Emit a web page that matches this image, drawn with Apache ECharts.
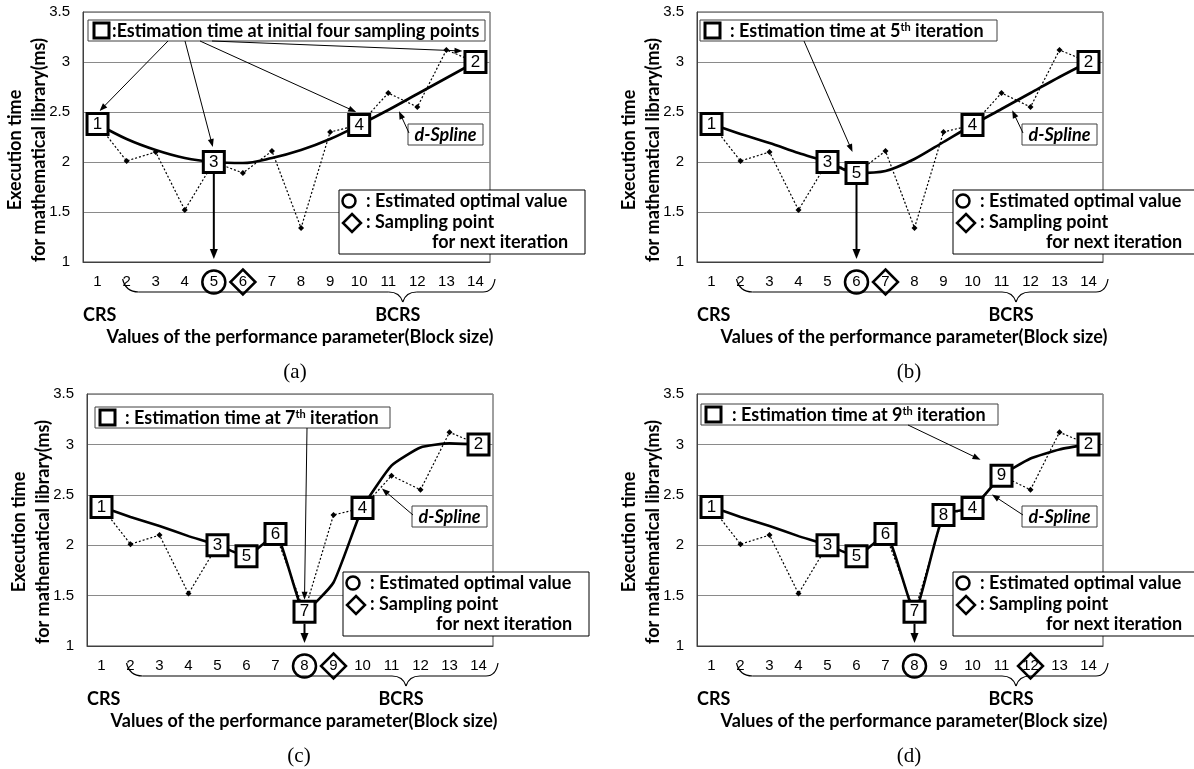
<!DOCTYPE html>
<html><head><meta charset="utf-8">
<script src="https://cdn.jsdelivr.net/npm/echarts@6/dist/echarts.min.js"></script>
<style>html,body{margin:0;padding:0;background:#fff}#c{width:1194px;height:769px}</style>
</head><body><div id="c"></div><script>
// ---------- data ----------
const categories = ['1','2','3','4','5','6','7','8','9','10','11','12','13','14'];
const measured = [2.38, 2.01, 2.10, 1.52, 2.00, 1.89, 2.11, 1.34, 2.30, 2.37, 2.69, 2.55, 3.12, 3.00];
const splineA = [2.38, 2.23, 2.12, 2.04, 2.00, 1.99, 2.04, 2.12, 2.23, 2.37, 2.52, 2.68, 2.84, 3.00];
const splineB = [2.38, 2.28, 2.19, 2.09, 2.00, 1.89, 1.91, 2.03, 2.20, 2.37, 2.53, 2.69, 2.85, 3.00];
const splineC = [2.38, 2.28, 2.19, 2.09, 2.00, 1.89, 2.11, 1.34, 1.63, 2.37, 2.79, 2.97, 3.01, 3.00];
const splineD = [2.38, 2.28, 2.19, 2.09, 2.00, 1.89, 2.11, 1.34, 2.30, 2.37, 2.69, 2.86, 2.95, 3.00];
const sampleCats = [1, 14, 5, 10, 6, 7, 8, 9, 11];   // category of k-th sampled point (box label k)
const samplesShown = [4, 5, 7, 9];
const optimalCats = [5, 6, 8, 8];
const nextCats = [6, 7, 9, 12];
const iterNames = ['', '5', '7', '9'];
const panelNames = ['(a)', '(b)', '(c)', '(d)'];
const yMin = 1, yMax = 3.5, yStep = 0.5;

// ---------- layout ----------
const L = [
  {left:83, top:12, width:407, height:250, smooth:0.35},
  {left:697, top:12, width:406, height:250, smooth:0.3},
  {left:87, top:394, width:406, height:252, smooth:0.15},
  {left:697, top:394, width:406, height:252, smooth:0.15}
];
const splines = [splineA, splineB, splineC, splineD];
const BOLD = 'bold 18px Lato';

const chart = echarts.init(document.getElementById('c'));
const grids = [], xAxes = [], yAxes = [], series = [];
L.forEach((p, i) => {
  grids.push({left:p.left, top:p.top, width:p.width, height:p.height, show:true, borderColor:'#404040', borderWidth:1});
  xAxes.push({gridIndex:i, type:'category', data:categories, boundaryGap:true,
    axisLine:{lineStyle:{color:'#404040', width:1}},
    axisTick:{inside:true, length:4, lineStyle:{color:'#404040'}},
    axisLabel:{fontFamily:'Liberation Sans', fontSize:15, color:'#000', margin:12},
    splitLine:{show:false}});
  yAxes.push({gridIndex:i, type:'value', min:yMin, max:yMax, interval:yStep,
    axisLine:{show:true, lineStyle:{color:'#404040'}}, axisTick:{show:false},
    axisLabel:{fontFamily:'Liberation Sans', fontSize:15, color:'#000', margin:13},
    splitLine:{lineStyle:{color:'#8a8a8a', width:1}}});
  series.push({type:'line', xAxisIndex:i, yAxisIndex:i, data:measured, symbol:'diamond', symbolSize:6,
    itemStyle:{color:'#000'}, lineStyle:{color:'#000', width:1.2, type:[2,2]}, z:2, silent:true});
  series.push({type:'line', xAxisIndex:i, yAxisIndex:i, data:splines[i], showSymbol:false, smooth:p.smooth,
    lineStyle:{color:'#000', width:2.6}, z:3, silent:true});
  const boxes = [];
  for (let k = 0; k < samplesShown[i]; k++) {
    const c = sampleCats[k] - 1;
    boxes.push({name:String(k+1), value:[c, measured[c]]});
  }
  series.push({type:'scatter', xAxisIndex:i, yAxisIndex:i, data:boxes, symbol:'rect', symbolSize:21,
    itemStyle:{color:'#fff', borderColor:'#000', borderWidth:3, opacity:1},
    label:{show:true, position:'inside', formatter:'{b}', fontFamily:'Liberation Sans', fontSize:17, color:'#000'},
    z:5, silent:true});
});

chart.setOption({animation:false, backgroundColor:'#fff', grid:grids, xAxis:xAxes, yAxis:yAxes, series:series});

// ---------- annotations ----------
function arrow(x1, y1, x2, y2, w, hl, hw) {
  const dx = x2-x1, dy = y2-y1, len = Math.hypot(dx, dy), ux = dx/len, uy = dy/len;
  const bx = x2-ux*hl, by = y2-uy*hl, px = -uy, py = ux;
  return [
    {type:'line', z:100, shape:{x1:x1, y1:y1, x2:bx+ux*1, y2:by+uy*1}, style:{stroke:'#000', lineWidth:w}},
    {type:'polygon', z:100, shape:{points:[[x2,y2],[bx+px*hw/2,by+py*hw/2],[bx-px*hw/2,by-py*hw/2]]}, style:{fill:'#000'}}
  ];
}
function qcurve(x1, y1, cx, cy, x2, y2) {
  return {type:'bezierCurve', z:50, shape:{x1:x1, y1:y1, cpx1:cx, cpy1:cy, x2:x2, y2:y2}, style:{stroke:'#000', lineWidth:1.2, fill:null}};
}
function seg(x1, y1, x2, y2) {
  return {type:'line', z:50, shape:{x1:x1, y1:y1, x2:x2, y2:y2}, style:{stroke:'#000', lineWidth:1.2}};
}
function px(i, c, v) { return chart.convertToPixel({xAxisIndex:i, yAxisIndex:i}, [c, v]); }
function boxPx(i, k) { const c = sampleCats[k-1]-1; return px(i, c, measured[c]); }

const legendTop = [
  {dx:5, dy:8, w:397, sq:6, tx:24},
  {dx:3, dy:8, w:297, sq:5, tx:30},
  {dx:8, dy:13, w:295, sq:5, tx:30},
  {dx:4, dy:10, w:297, sq:5, tx:31}
];
const legendArrows = [
  [[80, 1, 2, -13], [97, 3, -1, -15], [112, 4, -3, -13], [124, 2, -13, -11]],
  [[104, 5, -4, -21]],
  [[212, 7, 0, -12]],
  [[207, 9, -21, -16]]
];
const downArrowBox = [3, 5, 7, 7];
const splineTip = [[10, 0.3], [10, 0.3], [9, 0.6], [9, 0.6]];

const g = [];
const richT = {
  t:{fontFamily:'Lato', fontWeight:'bold', fontSize:18, fill:'#000'},
  s:{fontFamily:'Lato', fontWeight:'bold', fontSize:11, fill:'#000', verticalAlign:'top'}
};
L.forEach((p, i) => {
  const gl = p.left, gt = p.top, gr = p.left + p.width, gb = p.top + p.height;
  const cw = p.width / categories.length;
  const cx = c => px(i, c, 2)[0];

  // y-axis title
  g.push({type:'text', x:gl-68, y:gt+138, rotation:Math.PI/2, style:{text:'Execution time', font:BOLD, fill:'#000', align:'center', verticalAlign:'middle'}});
  g.push({type:'text', x:gl-44, y:gt+138, rotation:Math.PI/2, style:{text:'for mathematical library(ms)', font:BOLD, fill:'#000', align:'center', verticalAlign:'middle'}});

  // brace
  const xl = cx(1) - 4, xm = gl + 11*cw, xr = gr + 5;
  const yT = gb + 17, yB = gb + 30, yTip = gb + 40;
  g.push(qcurve(xl, yT, xl+3, yB, xl+16, yB));
  g.push(seg(xl+16, yB, xm-14, yB));
  g.push(qcurve(xm-14, yB, xm-3, yB, xm, yTip));
  g.push(qcurve(xm, yTip, xm+3, yB, xm+14, yB));
  g.push(seg(xm+14, yB, xr-12, yB));
  g.push(qcurve(xr-12, yB, xr-2, yB, xr, yT));
  g.push({type:'text', x:gl, y:gb+53, style:{text:'CRS', font:BOLD, fill:'#000', align:'left', verticalAlign:'middle'}});
  g.push({type:'text', x:xm-5, y:gb+53, style:{text:'BCRS', font:BOLD, fill:'#000', align:'center', verticalAlign:'middle'}});
  g.push({type:'text', x:gl+217, y:gb+75, style:{text:'Values of the performance parameter(Block size)', font:BOLD, fill:'#000', align:'center', verticalAlign:'middle'}});
  g.push({type:'text', x:gl+212, y:gb+110, style:{text:panelNames[i], font:'21px "Liberation Serif"', fill:'#000', align:'center', verticalAlign:'middle'}});

  // circle / diamond around x labels
  const oc = cx(optimalCats[i]-1), ly = gb + 20;
  g.push({type:'circle', z:60, shape:{cx:oc, cy:ly, r:11.5}, style:{stroke:'#000', lineWidth:2.5, fill:null}});
  const nc = cx(nextCats[i]-1), h = 12.5;
  g.push({type:'polygon', z:60, shape:{points:[[nc,ly-h],[nc+h,ly],[nc,ly+h],[nc-h,ly]]}, style:{stroke:'#000', lineWidth:2.5, fill:null}});

  // top legend
  const lt = legendTop[i], rx = gl + lt.dx, ry = gt + lt.dy;
  g.push({type:'rect', z:90, shape:{x:rx, y:ry, width:lt.w, height:21}, style:{fill:'#fff', stroke:'#404040', lineWidth:1}});
  g.push({type:'rect', z:91, shape:{x:rx+lt.sq, y:ry+3, width:15, height:15}, style:{fill:'#fff', stroke:'#000', lineWidth:3}});
  const ltxt = i === 0 ? '{t|:Estimation time at initial four sampling points}'
                       : '{t|: Estimation time at ' + iterNames[i] + '}{s|th}{t| iteration}';
  g.push({type:'text', z:91, x:rx+lt.tx, y:ry+11, style:{text:ltxt, rich:richT, align:'left', verticalAlign:'middle'}});
  legendArrows[i].forEach(a => {
    const b = boxPx(i, a[1]);
    g.push(...arrow(rx + a[0], ry + 21, b[0] + a[2], b[1] + a[3], 1, 8, 6));
  });

  // down arrow from box to axis
  const db = boxPx(i, downArrowBox[i]);
  g.push(...arrow(db[0], db[1] + 12, db[0], gb - 3, 2, 10, 8));

  // d-Spline label
  const sx = gl + 325, sy = gt + 112;
  g.push({type:'rect', z:90, shape:{x:sx, y:sy, width:75, height:21}, style:{fill:'#fff', stroke:'#404040', lineWidth:1}});
  g.push({type:'text', z:91, x:sx+37.5, y:sy+11, style:{text:'d-Spline', font:'italic bold 18px Lato', fill:'#000', align:'center', verticalAlign:'middle'}});
  const st = splineTip[i], sp = splines[i];
  const p0 = px(i, st[0], sp[st[0]]), p1 = px(i, st[0]+1, sp[st[0]+1]);
  const tx = p0[0] + (p1[0]-p0[0])*st[1] + 2, ty = p0[1] + (p1[1]-p0[1])*st[1] + 6;
  g.push(...arrow(sx + 1, sy + 9, tx, ty, 1, 8, 6));

  // bottom legend
  const bx = gl + 256, by = gt + 178;
  g.push({type:'rect', z:90, shape:{x:bx, y:by, width:246, height:64}, style:{fill:'#fff', stroke:'#000', lineWidth:1}});
  g.push({type:'circle', z:91, shape:{cx:bx+10, cy:by+11, r:6.5}, style:{stroke:'#000', lineWidth:2.5, fill:null}});
  g.push({type:'polygon', z:91, shape:{points:[[bx+13,by+24],[bx+22,by+33],[bx+13,by+42],[bx+4,by+33]]}, style:{stroke:'#000', lineWidth:2.5, fill:null}});
  g.push({type:'text', z:91, x:bx+27, y:by+11, style:{text:': Estimated optimal value', font:BOLD, fill:'#000', align:'left', verticalAlign:'middle'}});
  g.push({type:'text', z:91, x:bx+27, y:by+32, style:{text:': Sampling point', font:BOLD, fill:'#000', align:'left', verticalAlign:'middle'}});
  g.push({type:'text', z:91, x:bx+93, y:by+52, style:{text:'for next iteration', font:BOLD, fill:'#000', align:'left', verticalAlign:'middle'}});
});

chart.setOption({graphic:{elements:g}});
</script></body></html>
